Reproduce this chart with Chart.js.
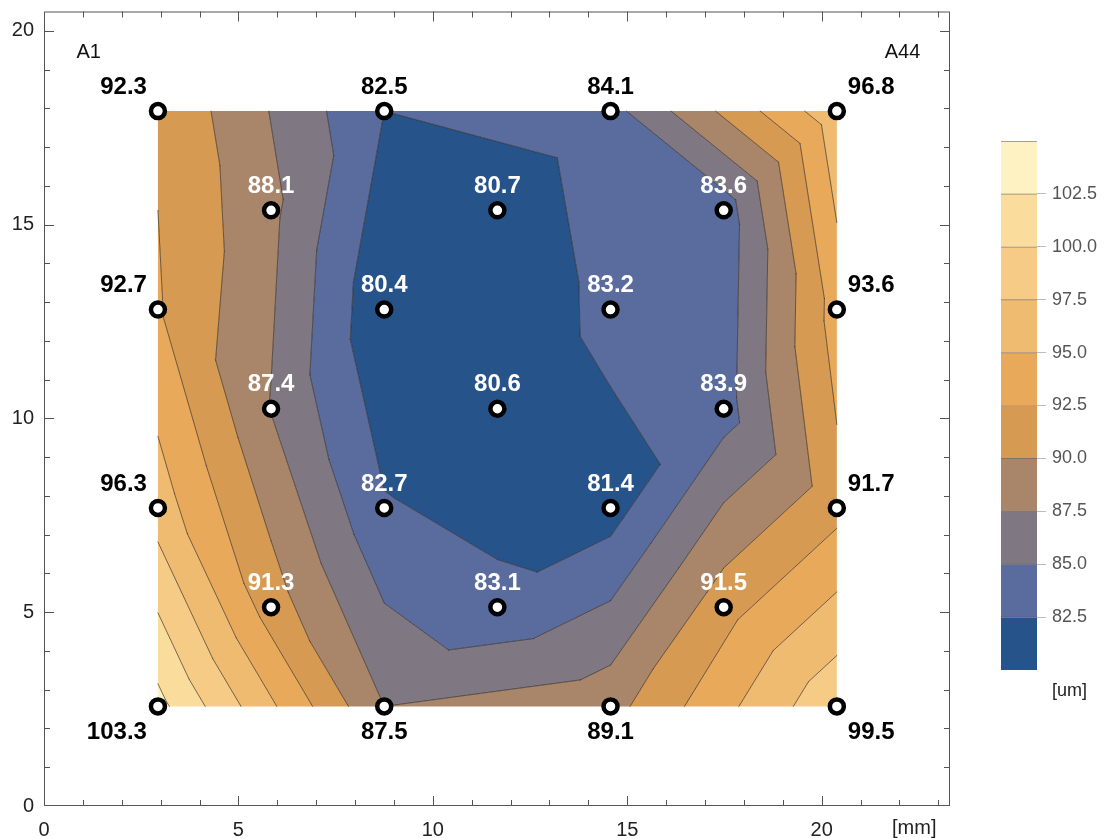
<!DOCTYPE html>
<html>
<head>
<meta charset="utf-8">
<script src="https://cdn.jsdelivr.net/npm/chart.js@4.4.1/dist/chart.umd.min.js"></script>
<style>
  html, body { margin: 0; padding: 0; background: #fff; }
  #wrap { position: relative; width: 1118px; height: 838px; overflow: hidden; }
  #main { position: absolute; left: 0; top: 0; }
  #bar { position: absolute; left: 995px; top: 130px; }
</style>
</head>
<body>
<div id="wrap">
  <canvas id="main" width="1118" height="838"></canvas>
  <canvas id="bar" width="123" height="580"></canvas>
</div>
<script>
// Measurement sites on the panel (mm) and film thickness at each site (um)
const siteX = [2.93, 8.75, 14.57, 20.39,
               5.84, 11.66, 17.48,
               2.93, 8.75, 14.57, 20.39,
               5.84, 11.66, 17.48,
               2.93, 8.75, 14.57, 20.39,
               5.84, 11.66, 17.48,
               2.93, 8.75, 14.57, 20.39];
const siteY = [17.93, 17.93, 17.93, 17.93,
               15.37, 15.37, 15.37,
               12.81, 12.81, 12.81, 12.81,
               10.25, 10.25, 10.25,
               7.69, 7.69, 7.69, 7.69,
               5.13, 5.13, 5.13,
               2.57, 2.57, 2.57, 2.57];
const thickness = [92.3, 82.5, 84.1, 96.8,
                   88.1, 80.7, 83.6,
                   92.7, 80.4, 83.2, 93.6,
                   87.4, 80.6, 83.9,
                   96.3, 82.7, 81.4, 91.7,
                   91.3, 83.1, 91.5,
                   103.3, 87.5, 89.1, 99.5];

// Contour levels and the colour of each band between them
const contourLevels = [82.5, 85, 87.5, 90, 92.5, 95, 97.5, 100, 102.5];
const bandEdges = [80, 82.5, 85, 87.5, 90, 92.5, 95, 97.5, 100, 102.5, 105];
const bandColors = ['#26548a', '#5a6b9e', '#7f7882', '#a98669', '#d79a52',
                    '#e8a95a', '#efbb70', '#f5cb86', '#fadd9c', '#fef2c2'];

// Axis tick labels
const xTickValues = [0, 5, 10, 15, 20];
const yTickValues = [0, 5, 10, 15, 20];

const FONT = "'Liberation Sans', Arial, sans-serif";

// Delaunay triangulation (Bowyer-Watson) of the measurement sites
function delaunay(px, py) {
  const n = px.length;
  const M = 1e4;
  const vx = px.concat([-M, M, 0]);
  const vy = py.concat([-M, -M, M]);
  const circ = (t) => {
    const ax = vx[t[0]], ay = vy[t[0]], bx = vx[t[1]], by = vy[t[1]], cx = vx[t[2]], cy = vy[t[2]];
    const d = 2 * (ax * (by - cy) + bx * (cy - ay) + cx * (ay - by));
    const a2 = ax * ax + ay * ay, b2 = bx * bx + by * by, c2 = cx * cx + cy * cy;
    const ux = (a2 * (by - cy) + b2 * (cy - ay) + c2 * (ay - by)) / d;
    const uy = (a2 * (cx - bx) + b2 * (ax - cx) + c2 * (bx - ax)) / d;
    return { x: ux, y: uy, r2: (ax - ux) ** 2 + (ay - uy) ** 2 };
  };
  let tris = [[n, n + 1, n + 2]];
  for (let i = 0; i < n; i++) {
    const bad = [], keep = [];
    for (const t of tris) {
      const c = circ(t);
      const dx = vx[i] - c.x, dy = vy[i] - c.y;
      (dx * dx + dy * dy < c.r2 * (1 - 1e-10) ? bad : keep).push(t);
    }
    const edges = [];
    for (const t of bad) {
      for (let k = 0; k < 3; k++) {
        const a = t[k], b = t[(k + 1) % 3];
        const idx = edges.findIndex(e => (e[0] === b && e[1] === a) || (e[0] === a && e[1] === b));
        if (idx >= 0) edges.splice(idx, 1); else edges.push([a, b]);
      }
    }
    tris = keep;
    for (const e of edges) tris.push([e[0], e[1], i]);
  }
  return tris.filter(t => t[0] < n && t[1] < n && t[2] < n);
}
const triangles = delaunay(siteX, siteY);

// Clip a convex polygon (vertices carry a value v) to the side where f(v) >= 0
function clipPoly(poly, f) {
  const out = [];
  for (let i = 0; i < poly.length; i++) {
    const a = poly[i], b = poly[(i + 1) % poly.length];
    const da = f(a.v), db = f(b.v);
    if (da >= 0) out.push(a);
    if ((da >= 0) !== (db >= 0)) {
      const t = da / (da - db);
      out.push({ x: a.x + t * (b.x - a.x), y: a.y + t * (b.y - a.y), v: a.v + t * (b.v - a.v) });
    }
  }
  return out;
}

// Filled bands and contour lines, linear over each triangle
const contourPlugin = {
  id: 'contour',
  beforeDatasetsDraw(chart) {
    const { ctx, scales: { x, y } } = chart;
    const pts = siteX.map((sx, i) => ({ x: x.getPixelForValue(sx), y: y.getPixelForValue(siteY[i]), v: thickness[i] }));
    ctx.save();
    // one path per band so neighbouring triangles join without seams
    for (let b = 0; b < bandColors.length; b++) {
      const lo = b === 0 ? -Infinity : bandEdges[b];
      const hi = b === bandColors.length - 1 ? Infinity : bandEdges[b + 1];
      ctx.beginPath();
      let any = false;
      for (const t of triangles) {
        let poly = [pts[t[0]], pts[t[1]], pts[t[2]]];
        poly = clipPoly(poly, v => v - lo);
        if (poly.length < 3) continue;
        poly = clipPoly(poly, v => hi - v);
        if (poly.length < 3) continue;
        // keep a consistent winding
        let area = 0;
        for (let k = 0; k < poly.length; k++) {
          const p = poly[k], q = poly[(k + 1) % poly.length];
          area += p.x * q.y - q.x * p.y;
        }
        if (area < 0) poly = poly.slice().reverse();
        ctx.moveTo(poly[0].x, poly[0].y);
        for (let k = 1; k < poly.length; k++) ctx.lineTo(poly[k].x, poly[k].y);
        ctx.closePath();
        any = true;
      }
      if (any) {
        ctx.fillStyle = bandColors[b];
        ctx.fill('nonzero');
      }
    }
    // contour lines
    ctx.strokeStyle = 'rgba(35,28,22,0.62)';
    ctx.lineWidth = 1;
    ctx.lineCap = 'round';
    for (const t of triangles) {
      const tri = [pts[t[0]], pts[t[1]], pts[t[2]]];
      for (const L of contourLevels) {
        const cross = [];
        for (let k = 0; k < 3; k++) {
          const a = tri[k], b = tri[(k + 1) % 3];
          const sa = a.v >= L, sb = b.v >= L;
          if (sa !== sb) {
            const s = (L - a.v) / (b.v - a.v);
            cross.push({ x: a.x + s * (b.x - a.x), y: a.y + s * (b.y - a.y) });
          }
        }
        if (cross.length === 2) {
          ctx.beginPath();
          ctx.moveTo(cross[0].x, cross[0].y);
          ctx.lineTo(cross[1].x, cross[1].y);
          ctx.stroke();
        }
      }
    }
    ctx.restore();
  }
};

// Frame, inward ticks, unit label and corner tags
const framePlugin = {
  id: 'frame',
  afterDraw(chart) {
    const { ctx, chartArea: a, scales: { x, y } } = chart;
    ctx.save();
    ctx.strokeStyle = '#555';
    ctx.lineWidth = 1;
    ctx.strokeRect(a.left + 0.5, a.top + 0.5, a.right - a.left - 1, a.bottom - a.top - 1);
    ctx.beginPath();
    for (let v = 1; v <= Math.floor(x.max); v++) {
      const p = Math.round(x.getPixelForValue(v)) + 0.5;
      const len = v % 5 === 0 ? 10 : 6;
      ctx.moveTo(p, a.bottom); ctx.lineTo(p, a.bottom - len);
      ctx.moveTo(p, a.top); ctx.lineTo(p, a.top + len);
    }
    for (let v = 1; v <= Math.floor(y.max); v++) {
      const p = Math.round(y.getPixelForValue(v)) + 0.5;
      const len = v % 5 === 0 ? 10 : 6;
      ctx.moveTo(a.left, p); ctx.lineTo(a.left + len, p);
      ctx.moveTo(a.right, p); ctx.lineTo(a.right - len, p);
    }
    ctx.stroke();
    ctx.fillStyle = '#222';
    ctx.font = '20px ' + FONT;
    ctx.textBaseline = 'middle';
    ctx.textAlign = 'left';
    ctx.fillText('[mm]', 892, 828);
    ctx.fillStyle = '#111';
    ctx.textAlign = 'center';
    ctx.fillText('A1', x.getPixelForValue(1.15), y.getPixelForValue(19.45));
    ctx.fillText('A44', x.getPixelForValue(22.08), y.getPixelForValue(19.45));
    ctx.restore();
  }
};

// Thickness value next to each site
const valueLabelPlugin = {
  id: 'valueLabels',
  afterDatasetsDraw(chart) {
    const { ctx, scales: { x, y } } = chart;
    const minX = Math.min(...siteX), maxX = Math.max(...siteX);
    const minY = Math.min(...siteY), maxY = Math.max(...siteY);
    ctx.save();
    ctx.font = 'bold 24px ' + FONT;
    ctx.textBaseline = 'middle';
    thickness.forEach((v, i) => {
      const px = x.getPixelForValue(siteX[i]);
      const py = y.getPixelForValue(siteY[i]);
      const edge = siteX[i] === minX || siteX[i] === maxX || siteY[i] === minY || siteY[i] === maxY;
      ctx.fillStyle = edge ? '#000' : '#fff';
      let tx = px, align = 'center';
      if (siteX[i] === minX) { align = 'right'; tx = px - 11; }
      else if (siteX[i] === maxX) { align = 'left'; tx = px + 11; }
      const ty = siteY[i] === minY ? py + 26 : py - 24;
      ctx.textAlign = align;
      ctx.fillText(v.toFixed(1), tx, ty);
    });
    ctx.restore();
  }
};

new Chart(document.getElementById('main'), {
  type: 'scatter',
  data: {
    datasets: [{
      data: siteX.map((sx, i) => ({ x: sx, y: siteY[i] })),
      pointRadius: 7,
      pointHoverRadius: 7,
      pointBorderWidth: 4.5,
      pointBackgroundColor: '#fff',
      pointBorderColor: '#000'
    }]
  },
  options: {
    responsive: false,
    animation: false,
    devicePixelRatio: 1,
    events: [],
    layout: { padding: { left: 0, top: 10, right: 168, bottom: 0 } },
    plugins: { legend: { display: false }, tooltip: { enabled: false } },
    scales: {
      x: {
        type: 'linear', min: 0, max: 23.3,
        afterBuildTicks: s => { s.ticks = xTickValues.map(v => ({ value: v })); },
        afterFit: s => { s.height = 32; s.paddingLeft = 0; s.paddingRight = 0; },
        grid: { display: false, drawTicks: false },
        border: { display: false },
        ticks: { padding: 12, color: '#222', font: { family: FONT, size: 20 }, maxRotation: 0 }
      },
      y: {
        type: 'linear', min: 0, max: 20.5,
        afterBuildTicks: s => { s.ticks = yTickValues.map(v => ({ value: v })); },
        afterFit: s => { s.width = 44; s.paddingTop = 0; s.paddingBottom = 0; },
        grid: { display: false, drawTicks: false },
        border: { display: false },
        ticks: { padding: 10, color: '#222', font: { family: FONT, size: 20 } }
      }
    }
  },
  plugins: [contourPlugin, framePlugin, valueLabelPlugin]
});

// Colour key: one floating bar segment per band
const unitPlugin = {
  id: 'unit',
  afterDraw(chart) {
    const { ctx, chartArea: a } = chart;
    ctx.save();
    ctx.fillStyle = '#222';
    ctx.font = '18px ' + FONT;
    ctx.textAlign = 'left';
    ctx.textBaseline = 'middle';
    ctx.fillText('[um]', a.right + 15, a.bottom + 21);
    ctx.restore();
  }
};

new Chart(document.getElementById('bar'), {
  type: 'bar',
  data: {
    labels: [''],
    datasets: bandColors.map((c, i) => ({
      data: [[bandEdges[i], bandEdges[i + 1]]],
      backgroundColor: c,
      borderColor: 'rgba(40,30,20,0.55)',
      borderWidth: { top: 1, bottom: 0, left: 0, right: 0 },
      borderSkipped: false,
      grouped: false,
      barPercentage: 1,
      categoryPercentage: 1
    }))
  },
  options: {
    responsive: false,
    animation: false,
    devicePixelRatio: 1,
    events: [],
    layout: { padding: { left: 6, top: 11, bottom: 40, right: 0 } },
    plugins: { legend: { display: false }, tooltip: { enabled: false } },
    scales: {
      x: { display: false },
      y: {
        position: 'right', min: 80, max: 105,
        afterBuildTicks: s => { s.ticks = contourLevels.map(v => ({ value: v })); },
        afterFit: s => { s.width = 81; s.paddingTop = 0; s.paddingBottom = 0; },
        grid: { drawOnChartArea: false, tickLength: 9, color: '#bbb' },
        border: { display: false },
        ticks: { padding: 6, color: '#555', font: { family: FONT, size: 18 }, callback: v => Number(v).toFixed(1) }
      }
    }
  },
  plugins: [unitPlugin]
});
</script>
</body>
</html>
